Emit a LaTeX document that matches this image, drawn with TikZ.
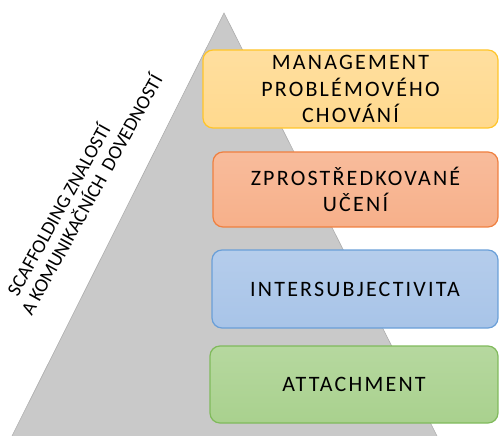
\documentclass[tikz,border=0pt]{standalone}
\usepackage{fontspec}
\setmainfont{Carlito}
\newfontfamily\levelfont[LetterSpace=10]{Carlito}
\usetikzlibrary{positioning}

\definecolor{pyrgray}{HTML}{C9C9C9}
\definecolor{pyredge}{HTML}{ADADAD}
\definecolor{yelfill}{HTML}{FFD98E}
\definecolor{yeledge}{HTML}{FFC52A}
\definecolor{orafill}{HTML}{F7B08A}
\definecolor{oraedge}{HTML}{EF8040}
\definecolor{blufill}{HTML}{A8C4E8}
\definecolor{bluedge}{HTML}{6A9FD8}
\definecolor{grefill}{HTML}{A9D18E}
\definecolor{greedge}{HTML}{80BA5C}

\tikzset{
  level/.style={draw, line width=1.2pt, rounded corners=10pt, align=center,
    inner sep=0pt, font=\levelfont\fontsize{22}{26.5}\selectfont},
}

\begin{document}
\begin{tikzpicture}[x=1pt, y=-1pt]
  \useasboundingbox (0,0) rectangle (499,436);

  % pyramid
  \coordinate (apex) at (224,13);
  \coordinate (bl) at (12,436);
  \coordinate (br) at (437,436);
  \fill[pyrgray] (apex) -- (bl) -- (br) -- cycle;
  \draw[pyredge, line width=0.6pt] (bl) -- (apex) -- (br);

  % side label
  \node[rotate=61, align=left, inner sep=0pt, font=\fontsize{19.5}{21.5}\selectfont] (side) at (81,189)
    {\hspace{10pt}SCAFFOLDING ZNALOSTÍ\\A KOMUNIKAČNÍCH\ \ DOVEDNOSTÍ};

  % levels, top to bottom
  \node[level, draw=yeledge, top color=yelfill!85!white, bottom color=yelfill,
    minimum width=295pt, minimum height=78pt] (manage) at (350.5,89)
    {MANAGEMENT\\PROBLÉMOVÉHO\\CHOVÁNÍ};
  \node[level, draw=oraedge, top color=orafill!85!white, bottom color=orafill,
    minimum width=285pt, minimum height=75pt] (mediate) at (355.5,189.5)
    {ZPROSTŘEDKOVANÉ\\UČENÍ};
  \node[level, draw=bluedge, top color=blufill!85!white, bottom color=blufill,
    minimum width=286pt, minimum height=78pt] (intersub) at (355,289)
    {INTERSUBJECTIVITA};
  \node[level, draw=greedge, top color=grefill!85!white, bottom color=grefill,
    minimum width=288pt, minimum height=77pt] (attach) at (354,384.5)
    {ATTACHMENT};
\end{tikzpicture}
\end{document}
